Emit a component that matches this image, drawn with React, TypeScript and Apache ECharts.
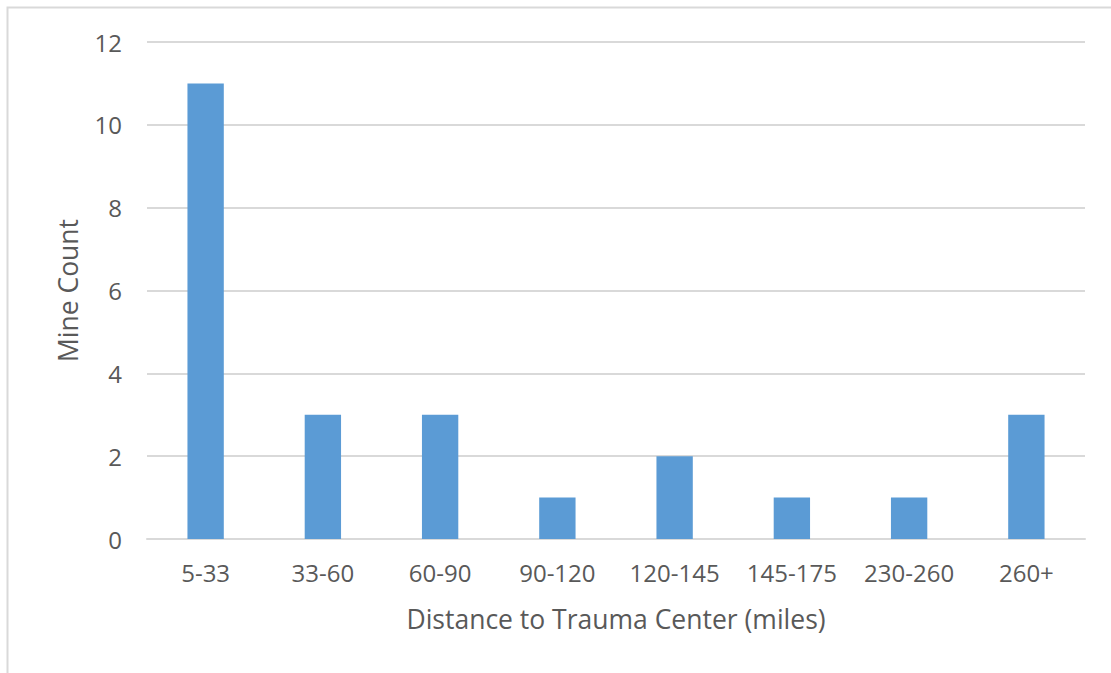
import React, { useEffect, useRef } from "react";
import * as echarts from "echarts";

const categories = ["5-33", "33-60", "60-90", "90-120", "120-145", "145-175", "230-260", "260+"];
const mineCounts = [11, 3, 3, 1, 2, 1, 1, 3];
const yTicks = { min: 0, max: 12, interval: 2 };

const FONT = "'Open Sans', 'Noto Sans', sans-serif";
const TEXT = "#595959";

export default function App() {
  const ref = useRef<HTMLDivElement>(null);
  useEffect(() => {
    const chart = echarts.init(ref.current!, null, { renderer: "svg" });
    chart.setOption({
      animation: false,
      backgroundColor: "#ffffff",
      graphic: [
        {
          type: "rect",
          shape: { x: 7.5, y: 7.5, width: 1200, height: 800 },
          style: { fill: "none", stroke: "#d9d9d9", lineWidth: 2 },
          silent: true,
        },
      ],
      grid: { left: 147, right: 26, top: 42, bottom: 134, containLabel: false },
      xAxis: {
        type: "category",
        data: categories,
        name: "Distance to Trauma Center (miles)",
        nameLocation: "middle",
        nameGap: 66,
        nameTextStyle: { color: TEXT, fontFamily: FONT, fontSize: 26.5 },
        axisLine: { show: true, lineStyle: { color: "#d9d9d9", width: 2 } },
        axisTick: { show: false },
        axisLabel: { color: TEXT, fontFamily: FONT, fontSize: 24, margin: 21 },
      },
      yAxis: {
        type: "value",
        min: yTicks.min,
        max: yTicks.max,
        interval: yTicks.interval,
        name: "Mine Count",
        nameLocation: "middle",
        nameGap: 66,
        nameTextStyle: { color: TEXT, fontFamily: FONT, fontSize: 26.5 },
        axisLine: { show: false },
        axisTick: { show: false },
        axisLabel: { color: TEXT, fontFamily: FONT, fontSize: 24, margin: 25 },
        splitLine: { lineStyle: { color: "#d9d9d9", width: 2 } },
      },
      series: [
        {
          type: "bar",
          data: mineCounts,
          barCategoryGap: "69%",
          itemStyle: { color: "#5b9bd5" },
        },
      ],
    });
    return () => chart.dispose();
  }, []);
  return (
    <div
      ref={ref}
      style={{ position: "absolute", left: 0, top: 0, width: 1111, height: 673 }}
    />
  );
}
